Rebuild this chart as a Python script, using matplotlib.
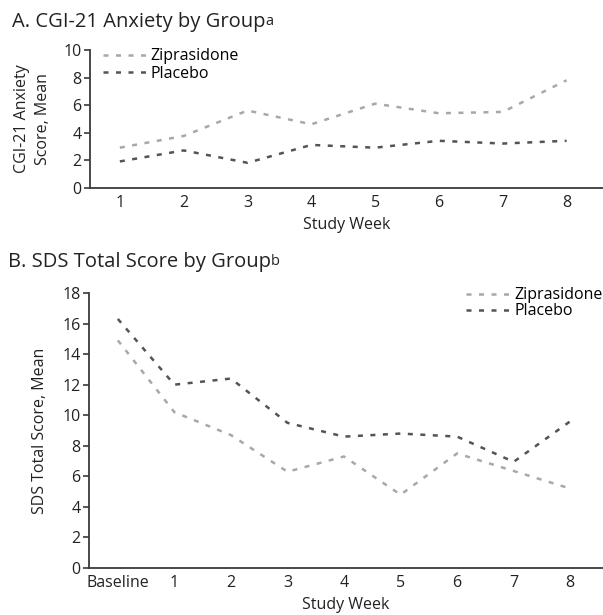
import matplotlib
matplotlib.use("Agg")
import matplotlib.pyplot as plt

plt.rcParams['font.family'] = ['Open Sans', 'DejaVu Sans']

# panel A: CGI-21 anxiety
weeks_a = [1, 2, 3, 4, 5, 6, 7, 8]
zip_a = [2.9, 3.75, 5.6, 4.6, 6.1, 5.4, 5.5, 7.8]
plac_a = [1.9, 2.7, 1.8, 3.1, 2.9, 3.4, 3.2, 3.4]

# panel B: SDS total
labels_b = ['Baseline', '1', '2', '3', '4', '5', '6', '7', '8']
zip_b = [14.9, 10.2, 8.7, 6.3, 7.3, 4.8, 7.5, 6.35, 5.2]
plac_b = [16.3, 12.0, 12.4, 9.5, 8.6, 8.8, 8.6, 6.95, 9.6]

light = '#a8a8a8'
dark = '#545454'
axcol = '#3a3a3a'
txt = '#222222'
dash = (2.0, 3.0)
fs = 11.5

fig = plt.figure(figsize=(6.03, 6.15), dpi=100)
axA = fig.add_axes([0.149, 0.695, 0.851, 0.2237])
axB = fig.add_axes([0.1476, 0.0764, 0.8524, 0.4472])

def style(ax):
    for s in ['top', 'right']:
        ax.spines[s].set_visible(False)
    for s in ['left', 'bottom']:
        ax.spines[s].set_color(axcol)
        ax.spines[s].set_linewidth(1.3)
    ax.tick_params(axis='y', length=4, width=1.2, color=axcol, pad=2,
                   labelsize=fs, labelcolor=txt)
    ax.tick_params(axis='x', length=0, pad=5, labelsize=fs, labelcolor=txt)

# A
axA.plot(weeks_a, zip_a, color=light, lw=1.8, dashes=dash, label='Ziprasidone')
axA.plot(weeks_a, plac_a, color=dark, lw=1.8, dashes=dash, label='Placebo')
axA.set_xlim(0.53, 8.57)
axA.set_ylim(0, 10)
axA.set_yticks(range(0, 11, 2))
axA.set_xticks(weeks_a)
style(axA)
axA.set_ylabel('CGI-21 Anxiety\nScore, Mean', fontsize=fs, color=txt, linespacing=1.4)
axA.yaxis.set_label_coords(-0.076, 0.5)
axA.set_xlabel('Study Week', fontsize=fs, color=txt)
axA.xaxis.set_label_coords(0.5, -0.214)
axA.legend(loc='upper left', bbox_to_anchor=(0.025, 1.013), frameon=False,
           handlelength=3.0, handletextpad=0.0, fontsize=fs, labelspacing=0.1,
           borderaxespad=0, borderpad=0)

# B
xb = list(range(len(labels_b)))
axB.plot(xb, zip_b, color=light, lw=1.8, dashes=dash, label='Ziprasidone')
axB.plot(xb, plac_b, color=dark, lw=1.8, dashes=dash, label='Placebo')
axB.set_xlim(-0.51, 8.58)
axB.set_ylim(0, 18)
axB.set_yticks(range(0, 19, 2))
axB.set_xticks(xb)
axB.set_xticklabels(labels_b)
style(axB)
axB.set_ylabel('SDS Total Score, Mean', fontsize=fs, color=txt)
axB.yaxis.set_label_coords(-0.08, 0.5)
axB.set_xlabel('Study Week', fontsize=fs, color=txt)
axB.xaxis.set_label_coords(0.5, -0.105)
axB.legend(loc='upper right', bbox_to_anchor=(0.999, 1.02), frameon=False,
           handlelength=3.0, handletextpad=0.0, fontsize=fs, labelspacing=0.0,
           borderaxespad=0, borderpad=0)

# titles with superscripts
tA = fig.text(0.02, 0.964, 'A. CGI-21 Anxiety by Group', fontsize=14.5,
              color=txt, va='center')
axA.annotate('a', xy=(1, 0.92), xycoords=tA, fontsize=10.5, color=txt,
             va='top', ha='left', annotation_clip=False)
tB = fig.text(0.013, 0.574, 'B. SDS Total Score by Group', fontsize=14.5,
              color=txt, va='center')
axB.annotate('b', xy=(1, 0.92), xycoords=tB, fontsize=10.5, color=txt,
             va='top', ha='left', annotation_clip=False)

fig.savefig('out.png', dpi=100)
